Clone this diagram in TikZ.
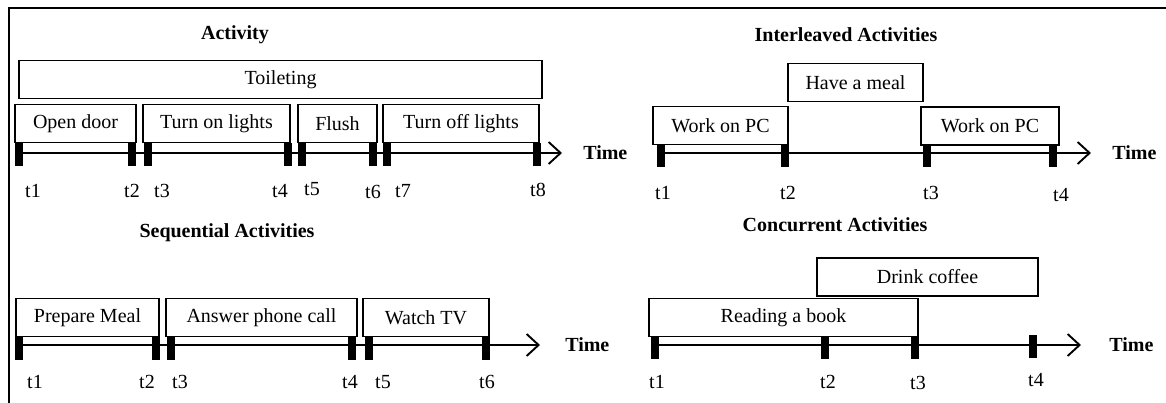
\documentclass[tikz,border=0pt]{standalone}
\usepackage{fontspec}
\setmainfont{Liberation Serif}
\usetikzlibrary{arrows.meta, positioning}

\begin{document}
\begin{tikzpicture}[
            x = 1pt, y = -1pt, % pixel units, y grows downwards
            > = {Straight Barb[length=12pt, width=22pt]}, % open arrow head
            line width = 1.9pt, % line style
            font = \fontsize{20}{23}\selectfont
        ]

        \tikzstyle{activity}=[
            draw = black,
            line width = 1.9pt,
            minimum height = 38pt,
            inner sep = 0pt
        ]
        \tikzstyle{tick}=[
            fill = black,
            minimum width = 8pt,
            minimum height = 23pt,
            inner sep = 0pt
        ]
        \tikzstyle{heading}=[font = \fontsize{20}{23}\selectfont\bfseries]

	\useasboundingbox (0,0) rectangle (1166,403);
	\draw (9,403) |- (1166,8);

	% activity
	\node[heading] (atitle) at (235,35) {Activity};
	\node[activity, minimum width=523pt] (toilet) at (280.5,79.5) {Toileting};
	\node[activity, minimum width=121pt] (door) at (75.5,123.5) {Open door};
	\node[activity, minimum width=147pt] (lon) at (216.5,123.5) {Turn on lights};
	\node[activity, minimum width=79pt] (flush) at (337.5,123.5) {Flush};
	\node[activity, minimum width=156pt] (loff) at (461,123.5) {Turn off lights};
	\node[tick] (a1) at (19,155) {};
	\node[tick] (a2) at (132,155) {};
	\node[tick] (a3) at (148,155) {};
	\node[tick] (a4) at (288,155) {};
	\node[tick] (a5) at (302,155) {};
	\node[tick] (a6) at (373,155) {};
	\node[tick] (a7) at (387,155) {};
	\node[tick] (a8) at (537,155) {};
	\coordinate (aend) at (562,153);
	\draw[->] (a1.center |- aend) -- (aend);
	\node[heading, right=17pt of aend] (atime) {Time};
	\node (la1) at (33,191) {t1};
	\node (la2) at (132,191) {t2};
	\node (la3) at (162,191) {t3};
	\node (la4) at (280,191) {t4};
	\node (la5) at (312,189) {t5};
	\node (la6) at (373,192) {t6};
	\node (la7) at (403,191) {t7};
	\node (la8) at (538,190) {t8};

	% interleaved activities
	\node[heading] (btitle) at (846,35) {Interleaved Activities};
	\node[activity, minimum width=135pt] (pc1) at (720.5,125.5) {Work on PC};
	\node[activity, minimum width=135pt] (meal) at (855.5,82.5) {Have a meal};
	\node[activity, minimum width=138pt] (pc2) at (990,126) {Work on PC};
	\node[tick] (b1) at (661,156) {};
	\node[tick] (b2) at (785,156) {};
	\node[tick] (b3) at (927,156) {};
	\node[tick] (b4) at (1053,156) {};
	\coordinate (bend) at (1091,153);
	\draw[->] (b1.center |- bend) -- (bend);
	\node[heading, right=17pt of bend] (btime) {Time};
	\node (lb1) at (663,193) {t1};
	\node (lb2) at (788,193) {t2};
	\node (lb3) at (931,193) {t3};
	\node (lb4) at (1061,195) {t4};

	% sequential activities
	\node[heading] (ctitle) at (227,233) {Sequential Activities};
	\node[activity, minimum width=143pt] (prep) at (87.5,317.5) {Prepare Meal};
	\node[activity, minimum width=191pt] (phone) at (261.5,317.5) {Answer phone call};
	\node[activity, minimum width=126pt] (tv) at (426,317.5) {Watch TV};
	\node[tick] (c1) at (19,348.5) {};
	\node[tick] (c2) at (156,348.5) {};
	\node[tick] (c3) at (171,348.5) {};
	\node[tick] (c4) at (352,348.5) {};
	\node[tick] (c5) at (369,348.5) {};
	\node[tick] (c6) at (486,348.5) {};
	\coordinate (cend) at (540,345);
	\draw[->] (c1.center |- cend) -- (cend);
	\node[heading, right=21pt of cend] (ctime) {Time};
	\node (lc1) at (35,382) {t1};
	\node (lc2) at (147,382) {t2};
	\node (lc3) at (180,382) {t3};
	\node (lc4) at (350,382) {t4};
	\node (lc5) at (383,382) {t5};
	\node (lc6) at (487,382) {t6};

	% concurrent activities
	\node[heading] (dtitle) at (835,225) {Concurrent Activities};
	\node[activity, minimum width=221pt] (coffee) at (927.5,277) {Drink coffee};
	\node[activity, minimum width=269pt] (book) at (783.5,317.5) {Reading a book};
	\node[tick] (d1) at (655,347.5) {};
	\node[tick] (d2) at (825,347.5) {};
	\node[tick] (d3) at (915,347.5) {};
	\node[tick] (d4) at (1033,346.5) {};
	\coordinate (dend) at (1081,345);
	\draw[->] (d1.center |- dend) -- (dend);
	\node[heading, right=24pt of dend] (dtime) {Time};
	\node (ld1) at (657,382) {t1};
	\node (ld2) at (828,382) {t2};
	\node (ld3) at (918,383) {t3};
	\node (ld4) at (1036,380) {t4};

\end{tikzpicture}
\end{document}
